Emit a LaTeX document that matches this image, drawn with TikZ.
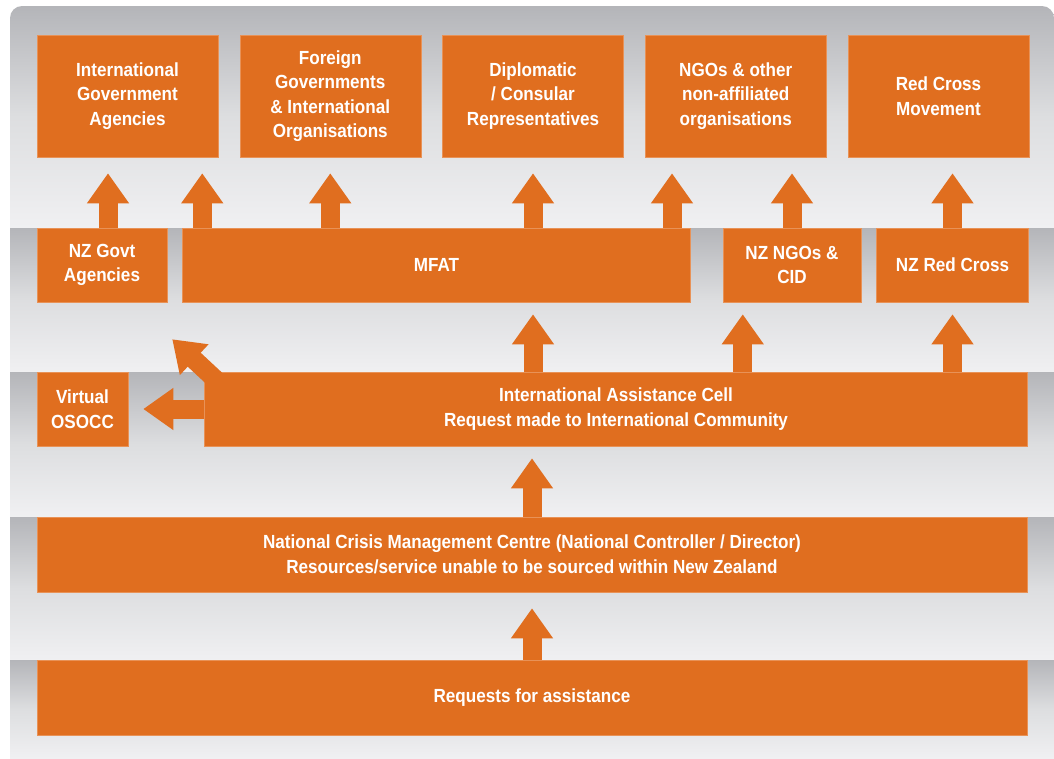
\documentclass[tikz,border=0pt]{standalone}
\usepackage{fontspec}
\setmainfont{Liberation Sans}[FakeStretch=0.9]
\usetikzlibrary{arrows.meta,positioning,calc}
\definecolor{orng}{RGB}{224,110,31}
\definecolor{bandtop}{RGB}{180,181,185}
\definecolor{bandmid}{RGB}{221,222,224}
\definecolor{bandbot}{RGB}{240,240,242}
\tikzstyle{box} = [fill=orng, draw=orng!75!white, line width=0.5pt, text=white,
  font=\bfseries\fontsize{19}{24.5}\selectfont, align=center, inner sep=0pt]
\tikzstyle{flow} = [draw=orng, line width=19pt, -{Triangle[length=30pt,width=40pt]}]

\begin{document}
\begin{tikzpicture}[x=1pt,y=-1pt]
    \useasboundingbox (0,0) rectangle (1054,758);
    % grey bands
    \begin{scope}
        \clip[rounded corners=12pt] (10,6) rectangle (1054,790);
        \foreach \t/\b in {6/228,228/372,372/517,517/660,660/758}
            \shade[top color=bandtop, bottom color=bandbot, middle color=bandmid] (10,\t) rectangle (1054,\b);
    \end{scope}

    % top row
    \tikzstyle{toprow} = [box, minimum width=181pt, minimum height=122pt]
    \node[toprow] (igov) at (127.5,96) {International\\Government\\Agencies};
    \node[toprow, right=21.25pt of igov] (fgov) {Foreign\\Governments\\\& International\\Organisations};
    \node[toprow, right=21.25pt of fgov] (dipl) {Diplomatic\\/ Consular\\Representatives};
    \node[toprow, right=21.25pt of dipl] (ngo) {NGOs \& other\\non-affiliated\\organisations};
    \node[toprow, right=21.25pt of ngo] (rc) {Red Cross\\Movement};

    % NZ row
    \tikzstyle{nzrow} = [box, minimum height=74pt]
    \node[nzrow, minimum width=130pt] (nzgovt) at (102,265) {NZ Govt\\Agencies};
    \node[nzrow, minimum width=508pt, right=15pt of nzgovt] (mfat) {MFAT};
    \node[nzrow, minimum width=138pt, right=32pt of mfat] (nzngo) {NZ NGOs \&\\CID};
    \node[nzrow, minimum width=152pt, right=15pt of nzngo] (nzrc) {NZ Red Cross};

    % cell row
    \node[nzrow, minimum width=91pt] (osocc) at (82.5,409) {Virtual\\OSOCC};
    \node[nzrow, minimum width=823pt, right=76pt of osocc] (iac)
        {International Assistance Cell\\Request made to International Community};

    % bottom rows
    \tikzstyle{wide} = [box, minimum width=990pt, minimum height=75pt]
    \node[wide] (ncmc) at (532,554.5) {National Crisis Management Centre (National Controller / Director)\\Resources/service unable to be sourced within New Zealand};
    \node[wide] (req) at (532,697.5) {Requests for assistance};

    % arrows up to the international side
    \draw[flow, shorten >=16pt] ($(nzgovt.north)+(6,0)$) -- ($(nzgovt.north |- igov.south)+(6,0)$);
    \draw[flow, shorten >=16pt] ($(mfat.north -| igov.south east)+(-16,0)$) -- ($(igov.south east)+(-16,0)$);
    \draw[flow, shorten >=16pt] (mfat.north -| fgov.south) -- (fgov.south);
    \draw[flow, shorten >=16pt] (mfat.north -| dipl.south) -- (dipl.south);
    \draw[flow, shorten >=16pt] ($(mfat.north -| ngo.south west)+(27,0)$) -- ($(ngo.south west)+(27,0)$);
    \draw[flow, shorten >=16pt] (nzngo.north) -- (nzngo.north |- ngo.south);
    \draw[flow, shorten >=16pt] (nzrc.north) -- (nzrc.north |- rc.south);

    % arrows out of the cell
    \draw[flow, shorten >=12pt] (iac.north -| dipl.south) -- (mfat.south -| dipl.south);
    \draw[flow, shorten >=12pt] ($(iac.north -| nzngo.south west)+(20,0)$) -- ($(nzngo.south west)+(20,0)$);
    \draw[flow, shorten >=12pt] (iac.north -| nzrc.south) -- (nzrc.south);
    \coordinate (govtip) at ($(nzgovt.south east)+(5,37)$);
    \draw[flow] ($(iac.north west)+(19,15)$) -- (govtip);
    \draw[flow] (iac.west) -- ($(osocc.east)+(15,0)$);

    % arrows up the chain
    \draw[flow, shorten >=12pt] (ncmc.north) -- (ncmc.north |- iac.south);
    \draw[flow, shorten >=16pt] (req.north) -- (ncmc.south);
\end{tikzpicture}
\end{document}
